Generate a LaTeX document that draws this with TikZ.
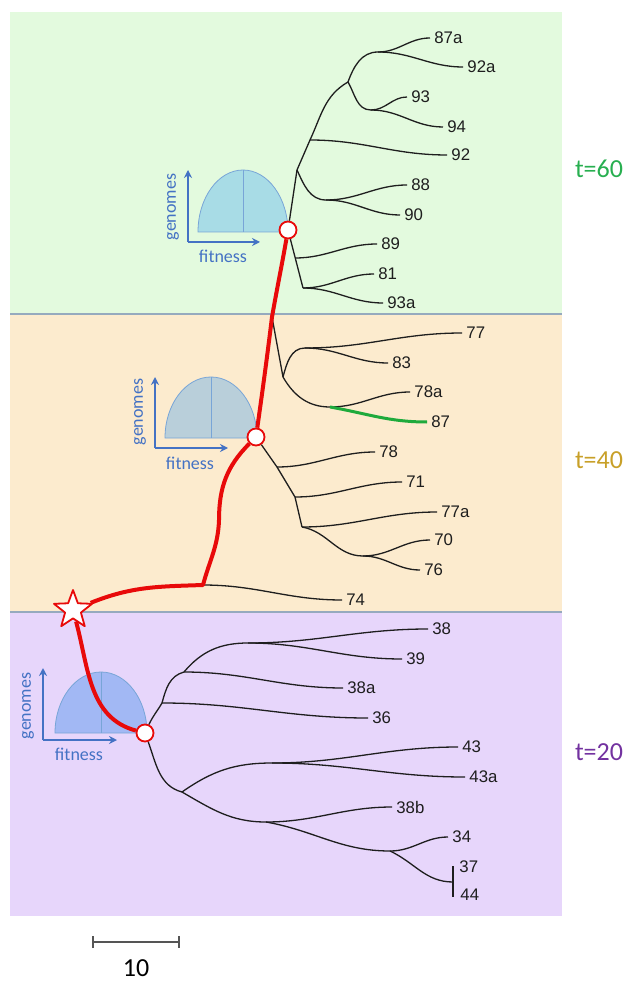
\documentclass[tikz,border=0pt]{standalone}
\usepackage{fontspec}
\setmainfont{Liberation Sans}
\newfontfamily\calibfont{Carlito}
\usetikzlibrary{arrows.meta,shapes.geometric}

\definecolor{bggreen}{RGB}{227,250,222}
\definecolor{bgorange}{RGB}{252,235,206}
\definecolor{bgpurple}{RGB}{231,214,251}
\definecolor{sepgrey}{RGB}{150,170,190}
\definecolor{treegrey}{RGB}{30,30,30}
\definecolor{pathred}{RGB}{232,10,10}
\definecolor{branchgreen}{RGB}{30,170,60}
\definecolor{axisblue}{RGB}{68,114,196}
\definecolor{domeedge}{RGB}{120,165,215}
\definecolor{dome60}{RGB}{168,220,230}
\definecolor{dome40}{RGB}{185,207,218}
\definecolor{dome20}{RGB}{162,184,244}
\definecolor{tgreen}{RGB}{40,175,80}
\definecolor{tgold}{RGB}{200,160,40}
\definecolor{tpurple}{RGB}{115,50,160}
\definecolor{bargrey}{RGB}{85,85,85}

\begin{document}
\begin{tikzpicture}[x=0.5pt, y=-0.5pt, >={Stealth[length=4pt,width=4pt]}, line join=round,
  br/.style={draw=treegrey, line width=0.65pt},
  hop/.style={out=0, in=180},
  leaf/.style={anchor=west, inner sep=2pt, text=treegrey, font=\fontsize{8.4}{10}\selectfont},
  redline/.style={draw=pathred, line width=2pt},
  knot/.style={circle, draw=pathred, fill=white, line width=0.9pt, inner sep=0pt, minimum size=8.5pt},
  dome/.style={draw=domeedge, line width=0.4pt},
  axis/.style={->, draw=axisblue, line width=1pt},
  axlabel/.style={text=axisblue, font=\calibfont\fontsize{9}{10}\selectfont, inner sep=0pt},
  era/.style={font=\calibfont\fontsize{13}{15}\selectfont, inner sep=0pt}]
  \useasboundingbox (0,0) rectangle (636,983);

  % panels
  \fill[bggreen] (10,12) rectangle (562,314);
  \fill[bgorange] (10,314) rectangle (562,612);
  \fill[bgpurple] (10,612) rectangle (562,916);
  \draw[sepgrey, line width=0.6pt] (10,314) -- (562,314);
  \draw[sepgrey, line width=0.6pt] (10,612) -- (562,612);

  % fitness insets
  \filldraw[dome, fill=dome60] (198,232) .. controls (198,197.8) and (218.2,170) .. (243,170)
    .. controls (267.8,170) and (288,197.8) .. (288,232) -- cycle;
  \draw[domeedge, line width=0.3pt] (243,170) -- (243,232);
  \draw[axis] (188,242) -- (188,170);
  \draw[axis] (188,242) -- (260,242);
  \node[axlabel, rotate=90] (gen60) at (173,207) {genomes};
  \node[axlabel] (fit60) at (223,256) {fitness};

  \filldraw[dome, fill=dome40] (165,438) .. controls (165,404.3) and (185.6,377) .. (211,377)
    .. controls (236.4,377) and (257,404.3) .. (257,438) -- cycle;
  \draw[domeedge, line width=0.3pt] (211,377) -- (211,438);
  \draw[axis] (155,448) -- (155,377);
  \draw[axis] (155,448) -- (228,448);
  \node[axlabel, rotate=90] (gen40) at (140,412) {genomes};
  \node[axlabel] (fit40) at (190,463) {fitness};

  \filldraw[dome, fill=dome20] (55,733) .. controls (55,699.3) and (75.6,672) .. (101,672)
    .. controls (126.4,672) and (147,699.3) .. (147,733) -- cycle;
  \draw[domeedge, line width=0.3pt] (101,672) -- (101,733);
  \draw[axis] (43,740) -- (43,668);
  \draw[axis] (43,740) -- (117,740);
  \node[axlabel, rotate=90] (gen20) at (28,706) {genomes};
  \node[axlabel] (fit20) at (79,754) {fitness};

  % sampled populations and founder
  \node[knot] (c60) at (288,230) {};
  \node[knot] (c40) at (256,437) {};
  \node[knot] (c20) at (145,733) {};
  \node[star, star points=5, star point ratio=2.4, draw=pathred, fill=white,
    line width=0.9pt, inner sep=0pt, minimum size=20pt] (founder) at (73,610) {};

  % t=60 tree
  \coordinate (t1) at (297,170);
  \coordinate (t2) at (310,140);
  \coordinate (t3) at (348,82);
  \coordinate (t4) at (378,52);
  \coordinate (t5) at (371,110);
  \coordinate (t6) at (326,200);
  \coordinate (t7) at (295,258);
  \coordinate (t8) at (303,288);
  \node[leaf] (l87a) at (430,38) {87a};
  \node[leaf] (l92a) at (463,67) {92a};
  \node[leaf] (l93) at (407,97) {93};
  \node[leaf] (l94) at (443,127) {94};
  \node[leaf] (l92) at (447,155) {92};
  \node[leaf] (l88) at (407,185) {88};
  \node[leaf] (l90) at (400,215) {90};
  \node[leaf] (l89) at (377,244) {89};
  \node[leaf] (l81) at (374,274) {81};
  \node[leaf] (l93a) at (383,303) {93a};
  \draw[br] (c60) -- (t1) -- (t2);
  \draw[br] (t2) to[out=65,in=210] (t3);
  \draw[br] (t3) to[out=70,in=180] (t4);
  \draw[br] (t3) to[out=-60,in=180] (t5);
  \draw[br] (t4) to[hop] (l87a.west);
  \draw[br] (t4) to[hop] (l92a.west);
  \draw[br] (t5) to[hop] (l93.west);
  \draw[br] (t5) to[hop] (l94.west);
  \draw[br] (t2) to[hop] (l92.west);
  \draw[br] (t1) to[out=-65,in=180] (t6);
  \draw[br] (t6) to[hop] (l88.west);
  \draw[br] (t6) to[hop] (l90.west);
  \draw[br] (c60) -- (t8);
  \draw[br] (t7) to[hop] (l89.west);
  \draw[br] (t8) to[hop] (l81.west);
  \draw[br] (t8) to[hop] (l93a.west);

  % t=40 tree
  \coordinate (j1) at (272,317);
  \coordinate (m1) at (283,377);
  \coordinate (m2) at (305,348);
  \coordinate (m3) at (330,407);
  \coordinate (m4) at (277,467);
  \coordinate (m5) at (295,497);
  \coordinate (m6) at (302,527);
  \coordinate (m7) at (363,556);
  \coordinate (j2) at (203,585);
  \node[leaf] (l77) at (462,333) {77};
  \node[leaf] (l83) at (388,363) {83};
  \node[leaf] (l78a) at (410,392) {78a};
  \node[leaf] (l87) at (427,422) {87};
  \node[leaf] (l78) at (375,452) {78};
  \node[leaf] (l71) at (402,482) {71};
  \node[leaf] (l77a) at (437,512) {77a};
  \node[leaf] (l70) at (430,540) {70};
  \node[leaf] (l76) at (420,570) {76};
  \node[leaf] (l74) at (342,600) {74};
  \draw[br] (j1) -- (m1);
  \draw[br] (m1) to[out=75,in=180] (m2);
  \draw[br] (m2) to[hop] (l77.west);
  \draw[br] (m2) to[hop] (l83.west);
  \draw[br] (m1) to[out=-60,in=180] (m3);
  \draw[br] (m3) to[hop] (l78a.west);
  \draw[branchgreen, line width=1.5pt] (m3) to[out=-10,in=180] (l87.west);
  \draw[br] (c40) -- (m4) -- (m5) -- (m6);
  \draw[br] (m4) to[hop] (l78.west);
  \draw[br] (m5) to[hop] (l71.west);
  \draw[br] (m6) to[hop] (l77a.west);
  \draw[br] (m6) to[out=-10,in=180] (m7);
  \draw[br] (m7) to[hop] (l70.west);
  \draw[br] (m7) to[hop] (l76.west);
  \draw[br] (j2) to[hop] (l74.west);

  % t=20 tree
  \coordinate (b1) at (162,703);
  \coordinate (b2) at (184,672);
  \coordinate (b3) at (248,643);
  \coordinate (b4) at (182,792);
  \coordinate (b5) at (272,763);
  \coordinate (b6) at (266,822);
  \coordinate (b7) at (390,851);
  \coordinate (b8) at (453,882);
  \coordinate (bt) at (453,866);
  \coordinate (bb) at (453,897);
  \node[leaf] (l38) at (428,629) {38};
  \node[leaf] (l39) at (402,659) {39};
  \node[leaf] (l38a) at (343,688) {38a};
  \node[leaf] (l36) at (368,718) {36};
  \node[leaf] (l43) at (458,747) {43};
  \node[leaf] (l43a) at (465,777) {43a};
  \node[leaf] (l38b) at (392,807) {38b};
  \node[leaf] (l34) at (448,837) {34};
  \node[leaf] (l37) at (455,867) {37};
  \node[leaf] (l44) at (456,895) {44};
  \draw[br] (c20) to[out=65,in=240] (b1);
  \draw[br] (b1) to[out=75,in=195] (b2);
  \draw[br] (b2) to[out=50,in=180] (b3);
  \draw[br] (b3) to[hop] (l38.west);
  \draw[br] (b3) to[hop] (l39.west);
  \draw[br] (b2) to[hop] (l38a.west);
  \draw[br] (b1) to[hop] (l36.west);
  \draw[br] (c20) to[out=-70,in=165] (b4);
  \draw[br] (b4) to[out=35,in=180] (b5);
  \draw[br] (b5) to[hop] (l43.west);
  \draw[br] (b5) to[hop] (l43a.west);
  \draw[br] (b4) to[out=-30,in=180] (b6);
  \draw[br] (b6) to[hop] (l38b.west);
  \draw[br] (b6) to[out=-10,in=180] (b7);
  \draw[br] (b7) to[hop] (l34.west);
  \draw[br] (b7) to[out=-25,in=180] (b8);
  \draw[br] (bt) -- (bb);

  % line of descent
  \coordinate (r1) at (219,520);
  \draw[redline] (c60) to[out=-100,in=80] (j1) to[out=-97,in=82] (c40);
  \draw[redline] (c40) to[out=225,in=90] (r1) to[out=-92,in=75] (j2)
    to[out=182,in=22] (founder);
  \draw[redline] (founder) to[out=-75,in=165] (c20);

  % time labels
  \node[era, text=tgreen] (era60) at (599,169) {t=60};
  \node[era, text=tgold] (era40) at (599,460) {t=40};
  \node[era, text=tpurple] (era20) at (599,752) {t=20};

  % scale bar
  \coordinate (sbl) at (92,942);
  \coordinate (sbr) at (180,942);
  \draw[bargrey, line width=1pt, {Bar[width=6pt]}-{Bar[width=6pt]}] (sbl) -- (sbr);
  \node[era, text=black] (sblab) at (136,968) {10};
\end{tikzpicture}
\end{document}
